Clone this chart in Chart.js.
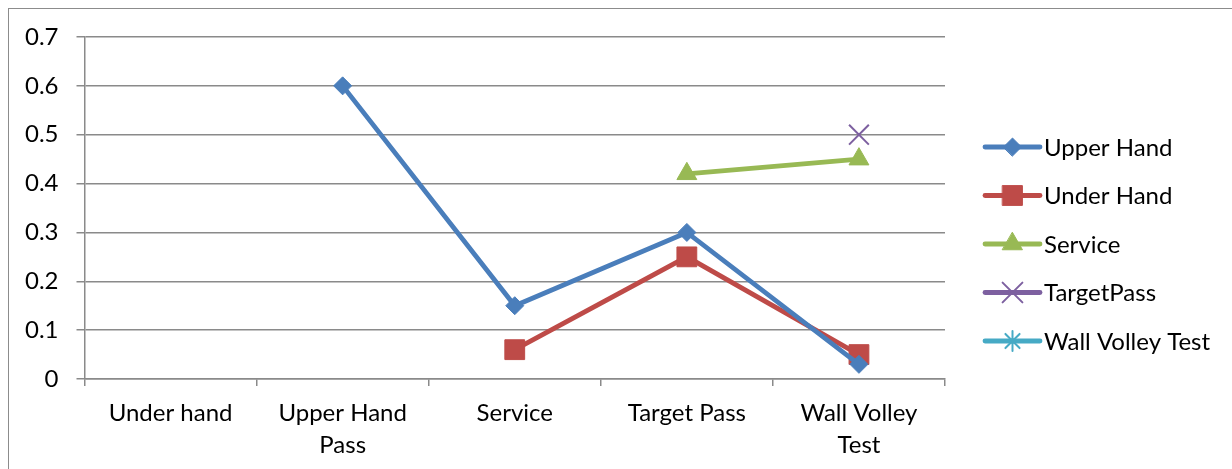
<!DOCTYPE html>
<html>
<head>
<meta charset="utf-8">
<script src="https://cdn.jsdelivr.net/npm/chart.js@4.4.0/dist/chart.umd.min.js"></script>
<style>
    body { margin: 0; background: #fff; }
    #wrap { position: relative; width: 1232px; height: 469px; overflow: hidden; }
    #frame { position: absolute; left: 8px; top: 8px; width: 1400px; height: 600px;
             border-left: 1.5px solid #8c8c8c; border-top: 1.5px solid #8c8c8c; }
    canvas { position: absolute; left: 0; top: 0; }
</style>
</head>
<body>
<div id="wrap">
    <div id="frame"></div>
    <canvas id="myChart" width="1232" height="469"></canvas>
</div>
<script>
// data
const categories = ['Under hand', ['Upper Hand', 'Pass'], 'Service', 'Target Pass', ['Wall Volley', 'Test']];
const upperHand = [null, 0.6, 0.15, 0.3, 0.03];
const underHand = [null, null, 0.06, 0.25, 0.05];
const service = [null, null, null, 0.42, 0.45];
const targetPass = [null, null, null, null, 0.5];
const wallVolleyTest = [null, null, null, null, null];
const seriesNames = ['Upper Hand', 'Under Hand', 'Service', 'TargetPass', 'Wall Volley Test'];

const FONT = 'Lato';
const FONT_SIZE = 24;
const gridColor = '#8a8a8a';

function makeSet(label, data, color, style, radius, bw) {
    return {
        label: label,
        data: data,
        borderColor: color,
        backgroundColor: color,
        borderWidth: 4.8,
        pointStyle: style,
        pointRadius: radius,
        pointHoverRadius: radius,
        pointBackgroundColor: color,
        pointBorderColor: color,
        pointBorderWidth: bw,
        spanGaps: false,
        tension: 0
    };
}

// legend drawn by hand: a line with the marker on it, like Excel does
const lineLegend = {
    id: 'lineLegend',
    afterDraw(chart) {
        const ctx = chart.ctx;
        const area = chart.chartArea;
        const x0 = area.right + 40;
        let y = area.top + 110;
        ctx.save();
        chart.data.datasets.forEach(function (ds) {
            ctx.strokeStyle = ds.borderColor;
            ctx.lineWidth = 4.8;
            ctx.lineCap = 'round';
            ctx.beginPath();
            ctx.moveTo(x0, y);
            ctx.lineTo(x0 + 55, y);
            ctx.stroke();
            ctx.fillStyle = ds.pointBackgroundColor;
            ctx.strokeStyle = ds.pointBorderColor;
            ctx.lineWidth = ds.pointBorderWidth;
            Chart.helpers.drawPoint(ctx, {
                pointStyle: ds.pointStyle, radius: ds.pointRadius, rotation: 0, borderWidth: ds.pointBorderWidth
            }, x0 + 27.5, y);
            ctx.fillStyle = '#000';
            ctx.font = FONT_SIZE + 'px ' + FONT;
            ctx.textBaseline = 'middle';
            ctx.textAlign = 'left';
            ctx.fillText(ds.label, x0 + 59, y + 1);
            y += 48.5;
        });
        ctx.restore();
    }
};

const ctx = document.getElementById('myChart');
const chart = new Chart(ctx, {
    type: 'line',
    data: {
        labels: categories,
        datasets: [
            makeSet(seriesNames[0], upperHand, '#4a7ebb', 'rectRot', 9, 1),
            makeSet(seriesNames[1], underHand, '#be4b48', 'rect', 14, 1),
            makeSet(seriesNames[2], service, '#98b954', 'triangle', 11.5, 1),
            makeSet(seriesNames[3], targetPass, '#7d60a0', 'crossRot', 14, 2),
            makeSet(seriesNames[4], wallVolleyTest, '#46aac5', 'star', 10, 2)
        ]
    },
    options: {
        responsive: false,
        animation: false,
        layout: { padding: { left: 7, right: 287, top: 37, bottom: -3 } },
        plugins: {
            legend: { display: false },
            tooltip: { enabled: false }
        },
        scales: {
            x: {
                offset: true,
                grid: { offset: true, drawOnChartArea: false, drawTicks: true, tickLength: 7, color: gridColor, lineWidth: 1.5 },
                border: { color: gridColor, width: 1.5 },
                ticks: { color: '#000', padding: 11, maxRotation: 0, font: { family: FONT, size: FONT_SIZE, lineHeight: 1.3333 } }
            },
            y: {
                min: 0,
                max: 0.7,
                grid: { color: gridColor, lineWidth: 1.5, tickLength: 8 },
                border: { color: gridColor, width: 1.5 },
                ticks: {
                    stepSize: 0.1,
                    color: '#000',
                    padding: 18,
                    font: { family: FONT, size: FONT_SIZE },
                    callback: function (v) { return String(Math.round(v * 10) / 10); }
                }
            }
        }
    },
    plugins: [lineLegend]
});
</script>
</body>
</html>
